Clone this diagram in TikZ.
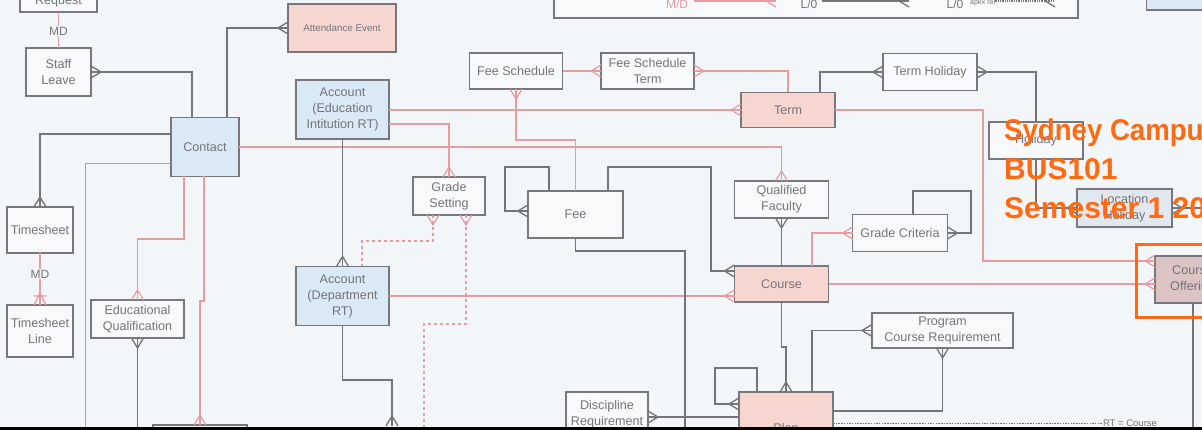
\documentclass[tikz,border=0pt]{standalone}
\usepackage{fontspec}
\newfontfamily\lsans{Liberation Sans}
\usetikzlibrary{arrows.meta}
\definecolor{bg}{HTML}{F3F6F9}
\definecolor{boxc}{HTML}{77777D}
\definecolor{boxfill}{HTML}{F7F9FB}
\definecolor{txt}{HTML}{74747B}
\definecolor{glc}{HTML}{747479}
\definecolor{plc}{HTML}{E79CA0}
\definecolor{pinkfill}{HTML}{F7D6D0}
\definecolor{bluefill}{HTML}{DAE9F6}
\definecolor{cofill}{HTML}{DDC4C4}
\definecolor{locfill}{HTML}{E1E8EF}
\definecolor{orng}{HTML}{FF6A13}
\pgfdeclarearrow{
  name = crow,
  setup code = {
    \pgfarrowssettipend{0pt}
    \pgfarrowssetlineend{0pt}
    \pgfarrowssetbackend{-10pt}
    \pgfarrowssetvisualbackend{-10pt}
    \pgfarrowshullpoint{0pt}{6pt}
    \pgfarrowshullpoint{0pt}{-6pt}
    \pgfarrowshullpoint{-10pt}{0pt}
  },
  drawing code = {
    \pgfsetdash{}{0pt}
    \pgfpathmoveto{\pgfqpoint{0pt}{6pt}}
    \pgfpathlineto{\pgfqpoint{-10pt}{0pt}}
    \pgfpathlineto{\pgfqpoint{0pt}{-6pt}}
    \pgfusepathqstroke
  }
}
\pgfdeclarearrow{
  name = crowbar,
  setup code = {
    \pgfarrowssettipend{0pt}
    \pgfarrowssetlineend{0pt}
    \pgfarrowssetbackend{-14pt}
    \pgfarrowssetvisualbackend{-14pt}
    \pgfarrowshullpoint{0pt}{6pt}
    \pgfarrowshullpoint{0pt}{-6pt}
    \pgfarrowshullpoint{-14pt}{0pt}
  },
  drawing code = {
    \pgfsetdash{}{0pt}
    \pgfpathmoveto{\pgfqpoint{0pt}{6pt}}
    \pgfpathlineto{\pgfqpoint{-12pt}{0pt}}
    \pgfpathlineto{\pgfqpoint{0pt}{-6pt}}
    \pgfpathmoveto{\pgfqpoint{-9pt}{6pt}}
    \pgfpathlineto{\pgfqpoint{-9pt}{-6pt}}
    \pgfusepathqstroke
  }
}
\tikzset{
  box/.style={draw=boxc, line width=1.4pt, fill=boxfill, inner sep=0pt, outer sep=0pt,
    align=center, text=txt, font=\lsans\fontsize{12.6}{16}\selectfont},
  pinkbox/.style={box, fill=pinkfill},
  bluebox/.style={box, fill=bluefill},
  gl/.style={draw=glc, line width=1.3pt},
  pl/.style={draw=plc, line width=1.2pt},
  thin/.style={draw=glc!65, line width=0.8pt},
  lbl/.style={inner sep=1pt, fill=bg, text=txt, font=\lsans\fontsize{12}{14}\selectfont},
  orangetxt/.style={anchor=base west, inner sep=0pt, text=orng, font=\lsans\bfseries\fontsize{30}{36}\selectfont},
}
\begin{document}
\begin{tikzpicture}[x=1pt,y=-1pt]
\useasboundingbox (0,0) rectangle (1202,430);
\clip (0,0) rectangle (1202,430);
\fill[bg] (0,0) rectangle (1202,430);

% legend box at top
\node[box, fill=boxfill, minimum width=524pt, minimum height=58pt] (legend) at (816,-11) {};
\node[anchor=base, inner sep=0pt, text=plc, font=\lsans\fontsize{12}{14}\selectfont] (lmd) at (677,9) {M/D};
\coordinate (lmde) at (776,1);
\draw[pl,-crow] (lmd.east |- lmde) ++(6,0) -- (lmde);
\node[anchor=base, inner sep=0pt, text=txt, font=\lsans\fontsize{12}{14}\selectfont] (llo) at (809,9) {L/0};
\coordinate (lloe) at (909,1);
\draw[gl,-crow] (llo.east |- lloe) ++(4,0) -- (lloe);
\node[anchor=base, inner sep=0pt, text=txt, font=\lsans\fontsize{12}{14}\selectfont] (llt) at (955,9) {L/0};
\node[anchor=base west, inner sep=0pt, text=txt, font=\lsans\fontsize{7}{8}\selectfont] (lapex) at (970,5) {apex rel};
\coordinate (lapexe) at (1055,1);
\draw[gl,densely dotted,-crow] (lapex.east |- lapexe) -- (lapexe);
\node[bluebox, minimum width=95pt, minimum height=50pt] (tr) at (1194,-15) {};

% nodes
\node[box, minimum width=77pt, minimum height=22pt] (request) at (58.5,1) {Request};
\node[box, minimum width=65pt, minimum height=48pt] (staffleave) at (58.5,72) {Staff\\Leave};
\node[bluebox, minimum width=68pt, minimum height=59pt] (contact) at (205,147) {Contact};
\node[pinkbox, minimum width=108pt, minimum height=48pt, font=\lsans\fontsize{9.8}{12}\selectfont] (attend) at (342,28) {Attendance Event};
\node[box, minimum width=66pt, minimum height=46pt] (timesheet) at (40,230) {Timesheet};
\node[box, minimum width=66pt, minimum height=52pt] (tsline) at (40,331) {Timesheet\\Line};
\node[box, minimum width=93pt, minimum height=38pt] (eduqual) at (137.5,319) {Educational\\Qualification};
\node[bluebox, minimum width=93pt, minimum height=59pt] (acctei) at (342.5,109.5) {Account\\(Education\\Intitution RT)};
\node[bluebox, minimum width=93pt, minimum height=59pt] (acctdept) at (342.5,296) {Account\\(Department\\RT)};
\node[box, minimum width=72pt, minimum height=38pt] (gradeset) at (449,196) {Grade\\Setting};
\node[box, minimum width=93pt, minimum height=36pt] (feesched) at (516,71) {Fee Schedule};
\node[box, minimum width=93pt, minimum height=36pt] (fsterm) at (647.5,71) {Fee Schedule\\Term};
\node[pinkbox, minimum width=94pt, minimum height=35pt] (term) at (788,110) {Term};
\node[box, minimum width=94pt, minimum height=37pt] (termhol) at (930,72) {Term Holiday};
\node[box, minimum width=94pt, minimum height=37pt] (holiday) at (1036,140.5) {Holiday};
\node[box, fill=locfill, minimum width=95pt, minimum height=38pt] (lochol) at (1124.5,208) {Location\\Holiday};
\node[box, minimum width=95pt, minimum height=47pt] (fee) at (575.5,214.5) {Fee};
\node[box, minimum width=94pt, minimum height=37pt] (qualfac) at (781.5,199.5) {Qualified\\Faculty};
\node[pinkbox, minimum width=94pt, minimum height=36pt] (course) at (781.5,284) {Course};
\node[box, minimum width=95pt, minimum height=37pt] (gradecrit) at (900,233) {Grade Criteria};
\node[box, minimum width=141pt, minimum height=35pt] (pcr) at (942.5,330.5) {Program\\Course Requirement};
\node[pinkbox, minimum width=94pt, minimum height=72pt] (plan) at (786,428) {Plan};
\node[box, minimum width=82pt, minimum height=44pt] (discreq) at (607,414) {Discipline\\Requirement};
\node[box, fill=cofill, minimum width=75pt, minimum height=47pt] (courseoff) at (1192.5,279.5) {Course\\Offering};
\node[box, minimum width=94pt, minimum height=46pt] (bottombox) at (200,448) {};

% connectors: left part
\draw[pl] (request.south) -- (staffleave.north);
\node[lbl] (md1) at (58.5,31) {MD};
\draw[gl,crow-] (staffleave.east) -| (contact.north -| 192,0);
\draw[gl,-crow] (contact.north -| 227,0) |- (attend.west);
\draw[gl,-crow] (contact.west |- 0,134) -| (timesheet.north);
\draw[pl,-crowbar] (timesheet.south) -- (tsline.north);
\node[lbl] (md2) at (40,274) {MD};
\draw[thin] (contact.west |- 0,163) -| (85,431);
\draw[pl,-crow] (contact.south -| 184,0) |- (137.5,239) -- (eduqual.north);
\draw[pl,-crow] (contact.south -| 204,0) |- (200,301) -- (bottombox.north -| 200,0);
\draw[gl,crow-] (eduqual.south) -- (137.5,431);
\draw[pl,-crow] (contact.east) -| (qualfac.north);

% accounts
\draw[pl,-crow] (acctei.east |- term.west) -- (term.west);
\draw[pl,-crow] (acctei.east |- 0,124) -| (gradeset.north);
\draw[gl,-crow] (acctei.south) -- (acctdept.north);
\draw[pl,dashed,crow-] (gradeset.south -| 433,0) |- (362,241) -- (acctdept.north -| 362,0);
\draw[pl,dashed,crow-] (gradeset.south -| 466,0) |- (424,324) -- (424,431);
\draw[pl,-crow] (acctdept.east) -- (course.west |- acctdept.east);
\coordinate (adend) at (392,426);
\draw[gl,-crow] (acctdept.south) |- (392,380) -- (adend);

% fees and terms
\draw[pl,-crow] (feesched.east) -- (fsterm.west);
\draw[pl,crow-] (fsterm.east) -| (term.north);
\draw[pl,crow-] (feesched.south) |- (575.5,140) -- (fee.north);
\draw[gl,-crow] (term.north -| 820,0) |- (termhol.west);
\draw[pl,-crow] (term.east) -| (983,261) -- (courseoff.west |- 0,261);
\draw[gl,crow-] (termhol.east) -| (holiday.north);
\draw[gl,-crow] (holiday.south) |- (lochol.west);
\draw[gl,crow-] (lochol.east) -- (1210,208);
\draw[gl,-crow] (fee.north -| 549,0) |- (505,167) |- (fee.west |- 0,211);
\draw[gl,-crow] (fee.north -| 608,0) |- (711,167) |- (course.west |- 0,271);
\coordinate (feeend) at (685,431);
\draw[gl] (fee.south) |- (685,251) -- (feeend);

% course and plan
\draw[gl,crow-] (qualfac.south) -- (course.north);
\draw[pl,-crow] (course.north -| 812,0) |- (gradecrit.west);
\draw[gl,-crow] (gradecrit.north -| 913,0) |- (971,191) |- (gradecrit.east);
\draw[pl,-crow] (course.east) -- (courseoff.west |- course.east);
\draw[gl,-crow] (course.south) |- (786,347) -- (plan.north);
\draw[gl,-crow] (plan.north -| 812,0) |- (pcr.west);
\draw[gl,crow-] (pcr.south) |- (plan.east |- 0,411);
\draw[gl,-crow] (plan.north -| 757,0) |- (715,368) |- (plan.west |- 0,404);
\draw[gl,crow-] (discreq.east |- 0,417) -- (plan.west |- 0,417);
\node[inner sep=0pt, text=txt, font=\lsans\fontsize{9.5}{11}\selectfont] (rt) at (1130,423) {RT = Course};
\draw[gl, line width=0.8pt, dash pattern=on 1.5pt off 1.2pt] (plan.east |- 0,423) -- (rt.west);
\draw[gl] (courseoff.south -| 1193,0) -- (1193,431);

% highlight
\draw[orng, line width=3pt] (1136,245) rectangle (1245,318);
\node[orangetxt] (o1) at (1004,141) {\scalebox{0.92}[1]{Sydney Campus}};
\node[orangetxt] (o2) at (1004,180) {BUS101};
\node[orangetxt] (o3) at (1004,219) {Semester 1 2023};

% bottom black strip
\fill[black] (0,426.5) rectangle (1202,431);
\end{tikzpicture}
\end{document}
